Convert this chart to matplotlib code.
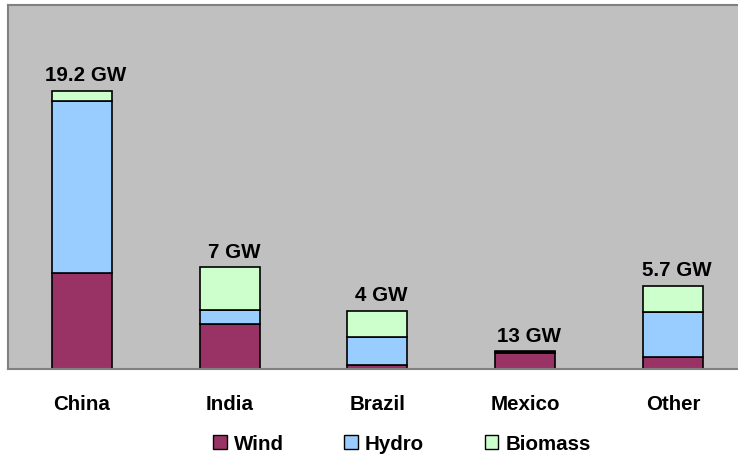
import matplotlib.pyplot as plt
from matplotlib.patches import Patch

plt.rcParams['font.family'] = ['Liberation Sans', 'DejaVu Sans']

# Daten (GW)
countries = ['China', 'India', 'Brazil', 'Mexico', 'Other']
wind = [6.6, 3.1, 0.3, 1.1, 0.8]
hydro = [11.9, 1.0, 1.9, 0.06, 3.1]
biomass = [0.7, 2.9, 1.8, 0.06, 1.85]
totals_text = ['19.2 GW', '7 GW', '4 GW', '13 GW', '5.7 GW']

col_wind = '#993366'
col_hydro = '#99CCFF'
col_bio = '#CCFFCC'

fig = plt.figure(figsize=(7.38, 4.57), dpi=100)
ax = fig.add_axes([8 / 738, 88 / 457, 730 / 738, 364 / 457])
ax.set_facecolor('#C0C0C0')

x = list(range(len(countries)))
w = 0.406
ax.bar(x, wind, w, color=col_wind, edgecolor='black', linewidth=1.2)
bottom2 = [a for a in wind]
ax.bar(x, hydro, w, bottom=bottom2, color=col_hydro, edgecolor='black', linewidth=1.2)
bottom3 = [a + b for a, b in zip(wind, hydro)]
ax.bar(x, biomass, w, bottom=bottom3, color=col_bio, edgecolor='black', linewidth=1.2)

# Beschriftung über den Balken
for i, txt in enumerate(totals_text):
    top = wind[i] + hydro[i] + biomass[i]
    ax.annotate(txt, (i, top), xytext=(3, 7), textcoords='offset points',
                ha='center', va='baseline', fontsize=14.8, fontweight='bold')

ax.set_xlim(-0.5, 4.44)
ax.set_ylim(0, 25.1)
ax.set_yticks([])
ax.set_xticks(x)
ax.set_xticklabels(countries, fontsize=14.8, fontweight='bold')
ax.tick_params(axis='x', length=0, pad=19)

for s in ['top', 'left', 'bottom']:
    ax.spines[s].set_color('#808080')
    ax.spines[s].set_linewidth(1.5)
ax.spines['right'].set_visible(False)

handles = [Patch(facecolor=col_wind, edgecolor='black', label='Wind'),
           Patch(facecolor=col_hydro, edgecolor='black', label='Hydro'),
           Patch(facecolor=col_bio, edgecolor='black', label='Biomass')]
leg = fig.legend(handles=handles, loc='center', bbox_to_anchor=(402 / 738, 1 - 444 / 457),
                 ncol=3, frameon=False, prop={'size': 14.8, 'weight': 'bold'},
                 handlelength=0.65, handleheight=0.65, handletextpad=0.35,
                 columnspacing=2.95)

fig.savefig('out.png', dpi=100)
